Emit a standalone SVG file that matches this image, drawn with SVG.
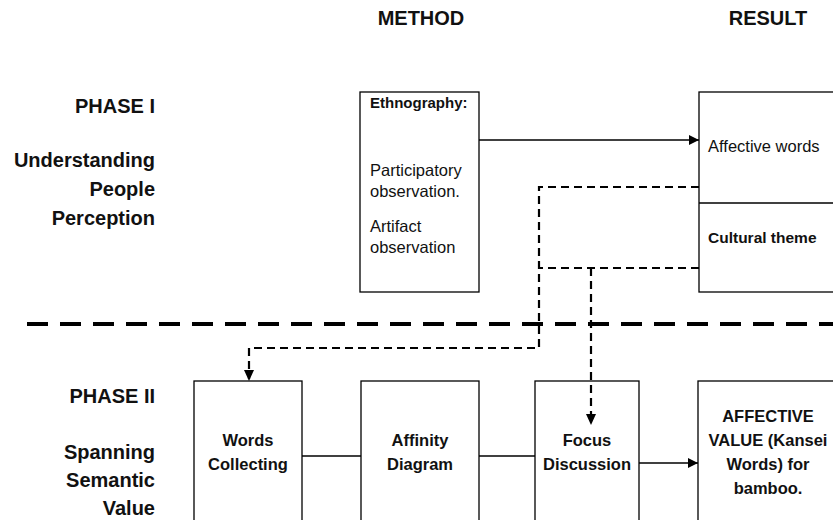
<svg xmlns="http://www.w3.org/2000/svg" width="833" height="520" viewBox="0 0 833 520">
<defs>
<marker id="ah" viewBox="0 0 10 10" refX="10" refY="5" markerWidth="10" markerHeight="10" markerUnits="userSpaceOnUse" orient="auto"><path d="M0,0 L10,5 L0,10 z" fill="#000"/></marker>
<style>
text{font-family:"Liberation Sans",Arial,sans-serif;fill:#111}
.h{font-size:20px;font-weight:bold}
.lbl{font-size:20px;font-weight:bold;text-anchor:end}
.bt{font-size:16.5px;font-weight:bold;text-anchor:middle}
.st{font-size:16.5px}
.sb{font-size:15px;font-weight:bold}
.box{fill:#fff;stroke:#000;stroke-width:1.3}
.ln{fill:none;stroke:#000;stroke-width:1.3}
.ds{fill:none;stroke:#000;stroke-width:2.2;stroke-dasharray:8 5}
.big{fill:none;stroke:#000;stroke-width:4;stroke-dasharray:21 12}
</style>
</defs>
<rect width="833" height="520" fill="#fff"/>
<g id="headers">
<text class="h" x="421" y="25" text-anchor="middle">METHOD</text>
<text class="h" x="768" y="25" text-anchor="middle">RESULT</text>
</g>
<g id="phase1-label">
<text class="lbl" x="155" y="113">PHASE I</text>
<text class="lbl" x="155" y="167">Understanding</text>
<text class="lbl" x="155" y="196">People</text>
<text class="lbl" x="155" y="225">Perception</text>
</g>
<g id="phase2-label">
<text class="lbl" x="155" y="403">PHASE II</text>
<text class="lbl" x="155" y="459">Spanning</text>
<text class="lbl" x="155" y="487">Semantic</text>
<text class="lbl" x="155" y="515">Value</text>
</g>
<g id="separator">
<line class="big" x1="27" y1="324" x2="833" y2="324"/>
</g>
<g id="ethnography">
<rect class="box" x="360" y="92" width="119" height="200"/>
<text class="sb" x="370" y="108">Ethnography:</text>
<text class="st" x="370" y="176">Participatory</text>
<text class="st" x="370" y="197">observation.</text>
<text class="st" x="370" y="232">Artifact</text>
<text class="st" x="370" y="253">observation</text>
</g>
<g id="result1">
<rect class="box" x="699" y="92" width="140" height="200"/>
<line class="ln" x1="699" y1="203" x2="833" y2="203"/>
<text class="st" x="708" y="152">Affective words</text>
<text style="font-size:15.5px;font-weight:bold" x="708" y="243">Cultural theme</text>
</g>
<g id="words-collecting">
<rect class="box" x="194" y="381" width="108" height="150"/>
<text class="bt" x="248" y="446">Words</text>
<text class="bt" x="248" y="470">Collecting</text>
</g>
<g id="affinity-diagram">
<rect class="box" x="361" y="381" width="118" height="150"/>
<text class="bt" x="420" y="446">Affinity</text>
<text class="bt" x="420" y="470">Diagram</text>
</g>
<g id="focus-discussion">
<rect class="box" x="535" y="381" width="104" height="150"/>
<text class="bt" x="587" y="446">Focus</text>
<text class="bt" x="587" y="470">Discussion</text>
</g>
<g id="affective-value">
<rect class="box" x="698" y="381" width="140" height="150"/>
<text class="bt" x="768" y="422">AFFECTIVE</text>
<text class="bt" x="768" y="446">VALUE (Kansei</text>
<text class="bt" x="768" y="470">Words) for</text>
<text class="bt" x="768" y="494">bamboo.</text>
</g>
<g id="connectors">
<line class="ln" x1="479" y1="140" x2="699" y2="140" marker-end="url(#ah)"/>
<polyline class="ds" points="699,187 539,187 539,348 249,348 249,379"/>
<path d="M244,370 L254,370 L249,381 z" fill="#000"/>
<polyline class="ds" points="699,268 539,268"/>
<polyline class="ds" points="591,268 591,418"/>
<path d="M586,414 L596,414 L591,425 z" fill="#000"/>
<line class="ln" x1="302" y1="456" x2="361" y2="456"/>
<line class="ln" x1="479" y1="456" x2="535" y2="456"/>
<line class="ln" x1="639" y1="463" x2="698" y2="463" marker-end="url(#ah)"/>
</g>
</svg>
